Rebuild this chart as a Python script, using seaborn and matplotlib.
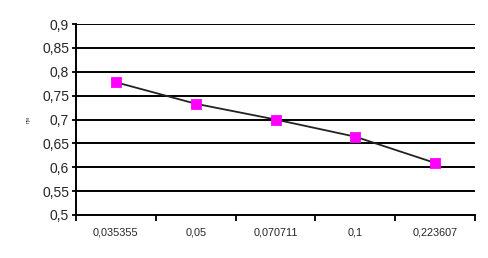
import matplotlib
matplotlib.use("Agg")
import matplotlib.pyplot as plt
import seaborn as sns
import pandas as pd
import numpy as np
from matplotlib.ticker import FixedLocator, FuncFormatter

categories = ["0,035355", "0,05", "0,070711", "0,1", "0,223607"]
values = [0.778, 0.733, 0.700, 0.664, 0.609]
y_label = "ηм"

df = pd.DataFrame({"x": categories, "y": values})

sns.set_theme(style="white")
plt.rcParams['font.family'] = ['Liberation Sans', 'DejaVu Sans']

fig = plt.figure(figsize=(4.88, 2.58), dpi=100)
ax = fig.add_axes([76/488, 1-215/258, (475-76)/488, (215-24)/258])

sns.pointplot(data=df, x="x", y="y", color="#222222", markers="", linewidth=1.3,
              errorbar=None, ax=ax, native_scale=False)
sns.pointplot(data=df, x="x", y="y", color="#ff00ff", markers="s", linestyles="none",
              errorbar=None, ax=ax, markersize=6)

ax.set_xlim(-0.5, len(categories) - 0.5)
ax.set_ylim(0.5, 0.9)
yt = np.round(np.arange(0.5, 0.9001, 0.05), 2)
ax.set_yticks(yt)
ax.yaxis.set_major_formatter(FuncFormatter(lambda v, p: f"{v:g}".replace(".", ",")))
for v in yt[1:]:
    ax.axhline(v, color="black", lw=1.4, zorder=0)

ax.set_xticks(range(len(categories)))
ax.set_xticklabels(categories, fontsize=7.8)
ax.tick_params(axis="x", which="major", length=0, pad=9)
ax.xaxis.set_minor_locator(FixedLocator(np.arange(-0.5, len(categories), 1.0)))
ax.tick_params(axis="x", which="minor", length=4, width=1.3, color="black", direction="out", bottom=True)
ax.tick_params(axis="y", which="major", length=3, width=1.3, color="black", direction="out", left=True, labelsize=10, pad=2)

for s in ["top", "right"]:
    ax.spines[s].set_visible(False)
for s in ["left", "bottom"]:
    ax.spines[s].set_color("black")
    ax.spines[s].set_linewidth(1.4)

ax.set_xlabel("")
ax.set_ylabel(y_label, fontsize=4, labelpad=8)

fig.savefig("out.png", dpi=100, facecolor="white")
